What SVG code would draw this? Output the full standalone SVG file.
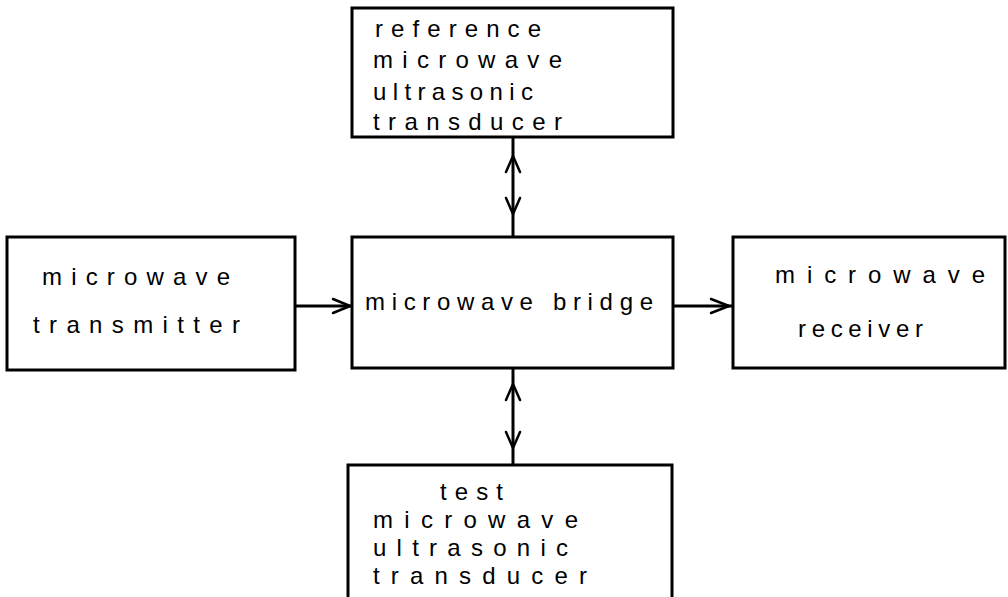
<svg xmlns="http://www.w3.org/2000/svg" width="1008" height="597" viewBox="0 0 1008 597">
<style>
.box{fill:#fff;stroke:#000;stroke-width:3}
.t{font-family:"Liberation Sans",Arial,sans-serif;font-size:24px;fill:#000}
.c{stroke:#000;stroke-width:3;fill:none}
.h{stroke:#000;stroke-width:2.5;fill:none;stroke-linecap:round;stroke-linejoin:round}
</style>
<rect width="1008" height="597" fill="#fff"/>
<g id="connectors">
<line class="c" x1="513" y1="137" x2="513" y2="237"/>
<path class="h" d="M506,172 L513,156 L520,172"/>
<path class="h" d="M506,198 L513,214 L520,198"/>
<line class="c" x1="513" y1="368" x2="513" y2="465"/>
<path class="h" d="M506,400 L513,384 L520,400"/>
<path class="h" d="M506,432 L513,448 L520,432"/>
<line class="c" x1="295" y1="306" x2="352" y2="306"/>
<path class="h" d="M333,299 L350,306 L333,313"/>
<line class="c" x1="673" y1="306" x2="733" y2="306"/>
<path class="h" d="M711,299 L729,306 L711,313"/>
</g>
<g id="reference">
<rect class="box" x="352" y="8" width="321" height="129"/>
<text class="t" x="375" y="37" textLength="166" lengthAdjust="spacing">reference</text>
<text class="t" x="373" y="68" textLength="189" lengthAdjust="spacing">microwave</text>
<text class="t" x="373" y="100" textLength="160" lengthAdjust="spacing">ultrasonic</text>
<text class="t" x="373" y="130" textLength="189" lengthAdjust="spacing">transducer</text>
</g>
<g id="transmitter">
<rect class="box" x="7" y="237" width="288" height="133"/>
<text class="t" x="42" y="285" textLength="188" lengthAdjust="spacing">microwave</text>
<text class="t" x="33" y="333" textLength="207" lengthAdjust="spacing">transmitter</text>
</g>
<g id="bridge">
<rect class="box" x="352" y="237" width="321" height="131"/>
<text class="t" x="365" y="310" textLength="288" lengthAdjust="spacing">microwave bridge</text>
</g>
<g id="receiver">
<rect class="box" x="733" y="237" width="272" height="131"/>
<text class="t" x="775" y="283" textLength="210" lengthAdjust="spacing">microwave</text>
<text class="t" x="798" y="337" textLength="125" lengthAdjust="spacing">receiver</text>
</g>
<g id="test">
<rect class="box" x="348" y="465" width="324" height="150"/>
<text class="t" x="440" y="500" textLength="63" lengthAdjust="spacing">test</text>
<text class="t" x="373" y="528" textLength="205" lengthAdjust="spacing">microwave</text>
<text class="t" x="373" y="556" textLength="195" lengthAdjust="spacing">ultrasonic</text>
<text class="t" x="373" y="584" textLength="214" lengthAdjust="spacing">transducer</text>
</g>
</svg>
